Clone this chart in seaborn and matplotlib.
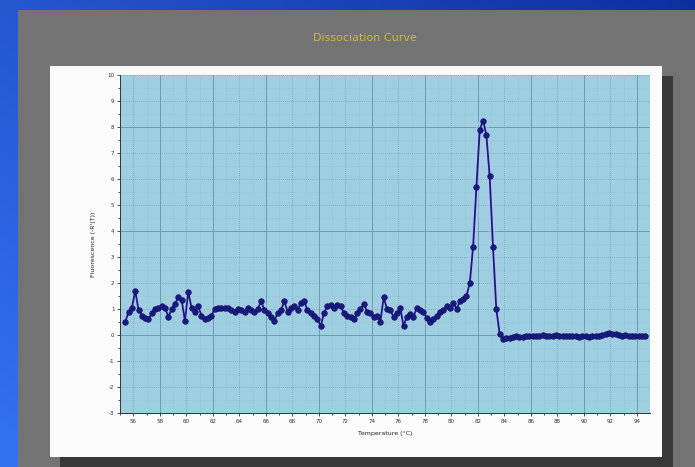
import numpy as np
import pandas as pd
import matplotlib
matplotlib.use("Agg")
import matplotlib.pyplot as plt
import seaborn as sns
from matplotlib.patches import Rectangle

# ---- data ----
temperature = [
    55.40, 55.65, 55.90, 56.15, 56.40, 56.65, 56.90, 57.15, 57.40, 57.65,
    57.90, 58.15, 58.40, 58.65, 58.90, 59.15, 59.40, 59.65, 59.90, 60.15,
    60.40, 60.65, 60.90, 61.15, 61.40, 61.65, 61.90, 62.15, 62.40, 62.65,
    62.90, 63.15, 63.40, 63.65, 63.90, 64.15, 64.40, 64.65, 64.90, 65.15,
    65.40, 65.65, 65.90, 66.15, 66.40, 66.65, 66.90, 67.15, 67.40, 67.65,
    67.90, 68.15, 68.40, 68.65, 68.90, 69.15, 69.40, 69.65, 69.90, 70.15,
    70.40, 70.65, 70.90, 71.15, 71.40, 71.65, 71.90, 72.15, 72.40, 72.65,
    72.90, 73.15, 73.40, 73.65, 73.90, 74.15, 74.40, 74.65, 74.90, 75.15,
    75.40, 75.65, 75.90, 76.15, 76.40, 76.65, 76.90, 77.15, 77.40, 77.65,
    77.90, 78.15, 78.40, 78.65, 78.90, 79.15, 79.40, 79.65, 79.90, 80.15,
    80.40, 80.65, 80.90, 81.15, 81.40, 81.65, 81.90, 82.15, 82.40, 82.65,
    82.90, 83.15, 83.40, 83.65, 83.90, 84.15, 84.40, 84.65, 84.90, 85.15,
    85.40, 85.65, 85.90, 86.15, 86.40, 86.65, 86.90, 87.15, 87.40, 87.65,
    87.90, 88.15, 88.40, 88.65, 88.90, 89.15, 89.40, 89.65, 89.90, 90.15,
    90.40, 90.65, 90.90, 91.15, 91.40, 91.65, 91.90, 92.15, 92.40, 92.65,
    92.90, 93.15, 93.40, 93.65, 93.90, 94.15, 94.40, 94.65,
]
fluorescence = [
    0.50, 0.90, 1.05, 1.70, 0.95, 0.75, 0.65, 0.60, 0.85, 1.00,
    1.05, 1.10, 1.05, 0.70, 1.00, 1.20, 1.45, 1.35, 0.55, 1.65,
    1.05, 0.90, 1.10, 0.75, 0.60, 0.65, 0.75, 1.00, 1.05, 1.05,
    1.05, 1.05, 0.95, 0.90, 1.00, 0.95, 0.90, 1.05, 0.95, 0.90,
    1.00, 1.30, 0.95, 0.85, 0.70, 0.55, 0.85, 0.95, 1.30, 0.90,
    1.05, 1.10, 0.95, 1.25, 1.30, 0.95, 0.85, 0.75, 0.60, 0.35,
    0.85, 1.10, 1.15, 1.05, 1.15, 1.10, 0.85, 0.75, 0.70, 0.60,
    0.85, 1.00, 1.20, 0.90, 0.85, 0.70, 0.75, 0.50, 1.45, 1.00,
    0.95, 0.70, 0.85, 1.05, 0.35, 0.70, 0.80, 0.70, 1.05, 0.95,
    0.90, 0.65, 0.50, 0.60, 0.75, 0.90, 0.95, 1.10, 1.05, 1.25,
    1.00, 1.30, 1.40, 1.50, 2.00, 3.40, 5.70, 7.90, 8.25, 7.70,
    6.10, 3.40, 1.00, 0.05, -0.15, -0.12, -0.10, -0.08, -0.05, -0.08,
    -0.06, -0.03, -0.02, -0.05, -0.03, -0.02, 0.00, -0.02, -0.04, -0.02,
    -0.01, -0.03, -0.02, -0.04, -0.03, -0.05, -0.04, -0.06, -0.03, -0.05,
    -0.06, -0.04, -0.02, -0.05, 0.00, 0.02, 0.08, 0.03, 0.05, 0.00,
    -0.02, -0.01, -0.02, -0.03, -0.02, -0.03, -0.02, -0.03,
]
x_tick_labels = [56, 58, 60, 62, 64, 66, 68, 70, 72, 74, 76, 78, 80, 82, 84, 86, 88, 90, 92, 94]
y_tick_labels = [-3, -2, -1, 0, 1, 2, 3, 4, 5, 6, 7, 8, 9, 10]
x_major_grid = [58, 62, 66, 70, 74, 78, 82, 86, 90, 94]
y_major_grid = [0, 4, 8]

df = pd.DataFrame({"Temperature": temperature, "Fluorescence": fluorescence})

sns.set_theme(style="white")
plt.rcParams['font.family'] = ['DejaVu Sans']

W, H = 695, 467
fig = plt.figure(figsize=(W / 100, H / 100), dpi=100)
fig.patch.set_facecolor('#2456d0')

# gradient slide background
bg = fig.add_axes([0, 0, 1, 1], zorder=-10)
gx = np.linspace(0, 1, 200)
gy = np.linspace(0, 1, 200)
GX, GY = np.meshgrid(gx, gy)
t = np.clip(0.6 * GX + 0.4 * (1 - GY), 0, 1)
c0 = np.array([0.20, 0.45, 0.95])
c1 = np.array([0.06, 0.18, 0.62])
img = c0[None, None, :] * (1 - t[..., None]) + c1[None, None, :] * t[..., None]
bg.imshow(img, extent=[0, 1, 0, 1], aspect='auto', origin='upper')
bg.set_axis_off()

def px_rect(x0, y0, x1, y1, color, z):
    fig.patches.append(Rectangle((x0 / W, 1 - y1 / H), (x1 - x0) / W, (y1 - y0) / H,
                                 transform=fig.transFigure, facecolor=color,
                                 edgecolor='none', zorder=z))

# slide panels
px_rect(18, 10, 695, 467, '#737373', 0)
px_rect(60, 76, 673, 467, '#383838', 1)    # shadow
px_rect(50, 66, 662, 457, '#fbfbfb', 2)    # white chart panel

fig.text(365 / W, 1 - 38 / H, "Dissociation Curve", ha='center', va='center',
         color='#cdb843', fontsize=8, zorder=5)

ax = fig.add_axes([120 / W, 1 - 413 / H, 530 / W, 338 / H])
ax.set_zorder(3)
ax.set_facecolor('#9ecfe0')

# faint halo then line with markers
ax.plot(df["Temperature"], df["Fluorescence"], color='#b3c3ec', lw=6, alpha=0.5,
        solid_capstyle='round', zorder=2)
sns.lineplot(data=df, x="Temperature", y="Fluorescence", ax=ax, estimator=None,
             sort=False, color='#181b84', lw=1.3, marker='o', markersize=4,
             markeredgecolor='#10125e', markeredgewidth=0.5, zorder=4)

ax.set_xlim(55.1, 95.0)
ax.set_ylim(-3, 10)
ax.set_xticks(x_tick_labels)
ax.set_xticklabels([str(v) for v in x_tick_labels], fontsize=4, color='#333333')
ax.set_yticks(y_tick_labels)
ax.set_yticklabels([str(v) for v in y_tick_labels], fontsize=4, color='#333333')
ax.set_xticks([v + 1 for v in x_tick_labels[:-1]] + [55], minor=True)
ax.set_yticks([v + 0.5 for v in y_tick_labels[:-1]], minor=True)
ax.tick_params(axis='both', which='both', direction='out', length=2, width=0.6,
               color='#333333', pad=2, bottom=True, left=True)
ax.tick_params(axis='both', which='minor', length=1.2)

ax.grid(which='major', color='#74a3b5', lw=0.6, ls=(0, (1, 1.5)))
ax.grid(which='minor', color='#8abaca', lw=0.4, ls=(0, (1, 2)))
for gxv in x_major_grid:
    ax.axvline(gxv, color='#6696aa', lw=0.6, zorder=1)
for gyv in y_major_grid:
    ax.axhline(gyv, color='#6696aa', lw=0.6, zorder=1)
ax.set_axisbelow(True)

for s in ['top', 'right']:
    ax.spines[s].set_visible(False)
for s in ['left', 'bottom']:
    ax.spines[s].set_color('#333333')
    ax.spines[s].set_linewidth(0.7)

ax.set_xlabel("Temperature (°C)", fontsize=4.5, color='#222222', labelpad=5)
ax.set_ylabel("Fluorescence (-R'(T))", fontsize=4.5, color='#222222', labelpad=8)

fig.savefig("out.png", dpi=100, facecolor=fig.get_facecolor())
